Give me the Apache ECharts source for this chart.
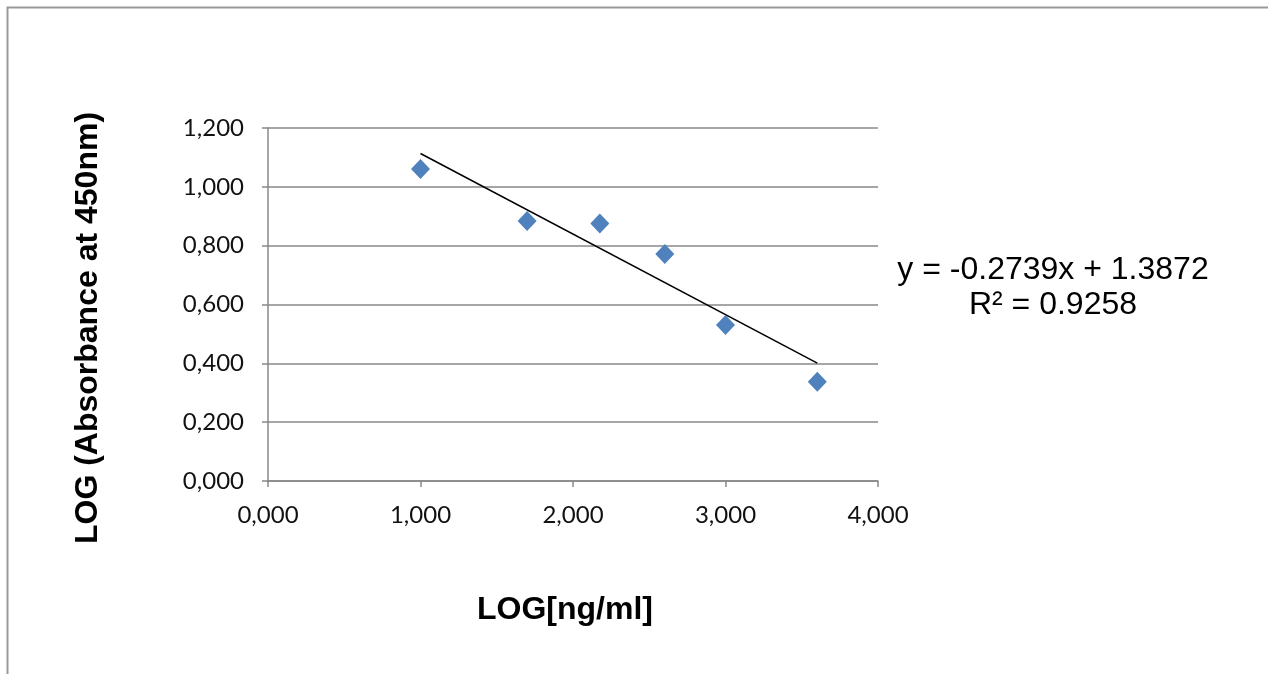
<!DOCTYPE html>
<html><head><meta charset="utf-8">
<script src="https://cdn.jsdelivr.net/npm/echarts@6/dist/echarts.min.js"></script>
<style>html,body{margin:0;padding:0;background:#fff}#c{width:1268px;height:674px}</style>
</head><body><div id="c"></div>
<script>
const xValues = [1.000, 1.699, 2.176, 2.602, 3.000, 3.602];
const yValues = [1.061, 0.884, 0.875, 0.772, 0.530, 0.337];
const slope = -0.2739;
const intercept = 1.3872;
const r2 = 0.9258;
const xTitle = 'LOG[ng/ml]';
const yTitle = 'LOG (Absorbance at 450nm)';

const points = xValues.map((x, i) => [x, yValues[i]]);
const xMin = Math.min(...xValues), xMax = Math.max(...xValues);
const trend = [[xMin, slope * xMin + intercept], [xMax, slope * xMax + intercept]];
const fmt = v => v.toFixed(3).replace('.', ',');

const chart = echarts.init(document.getElementById('c'));
chart.setOption({
  animation: false,
  grid: { left: 268, right: 390, top: 128, bottom: 193 },
  xAxis: {
    type: 'value', min: 0, max: 4, interval: 1,
    axisLine: { show: true, onZero: false, lineStyle: { color: '#888', width: 1.5 } },
    axisTick: { show: true, length: 6, lineStyle: { color: '#888', width: 1.5 } },
    splitLine: { show: false },
    axisLabel: { formatter: fmt, fontFamily: 'Lato', fontSize: 24, color: '#111', margin: 22 }
  },
  yAxis: {
    type: 'value', min: 0, max: 1.2, interval: 0.2,
    axisLine: { show: true, lineStyle: { color: '#888', width: 1.5 } },
    axisTick: { show: true, length: 6, lineStyle: { color: '#888', width: 1.5 } },
    splitLine: { show: true, lineStyle: { color: '#888', width: 1.5 } },
    axisLabel: { formatter: fmt, fontFamily: 'Lato', fontSize: 24, color: '#111', margin: 24 }
  },
  series: [
    { type: 'line', data: trend, symbol: 'none', lineStyle: { color: '#000', width: 1.5 }, z: 2 },
    { type: 'scatter', data: points, symbol: 'diamond', symbolSize: [19, 20],
      itemStyle: { color: '#4F81BD', opacity: 1 }, z: 3 }
  ],
  graphic: [
    { type: 'rect', shape: { x: 7.5, y: 7.5, width: 1400, height: 800 },
      style: { fill: 'none', stroke: '#999', lineWidth: 2 }, silent: true },
    { type: 'text', x: 565, y: 610,
      style: { text: xTitle, fontFamily: 'Liberation Sans', fontWeight: 'bold', fontSize: 32, fill: '#000', align: 'center', verticalAlign: 'middle' } },
    { type: 'text', x: 88, y: 328, rotation: Math.PI / 2,
      style: { text: yTitle, fontFamily: 'Liberation Sans', fontWeight: 'bold', fontSize: 32, fill: '#000', align: 'center', verticalAlign: 'middle' } },
    { type: 'text', x: 1053, y: 270,
      style: { text: 'y = ' + slope.toFixed(4) + 'x + ' + intercept.toFixed(4), fontFamily: 'Liberation Sans', fontSize: 32, fill: '#000', align: 'center', verticalAlign: 'middle' } },
    { type: 'text', x: 1053, y: 305,
      style: { text: 'R² = ' + r2.toFixed(4), fontFamily: 'Liberation Sans', fontSize: 32, fill: '#000', align: 'center', verticalAlign: 'middle' } }
  ]
});
</script></body></html>
